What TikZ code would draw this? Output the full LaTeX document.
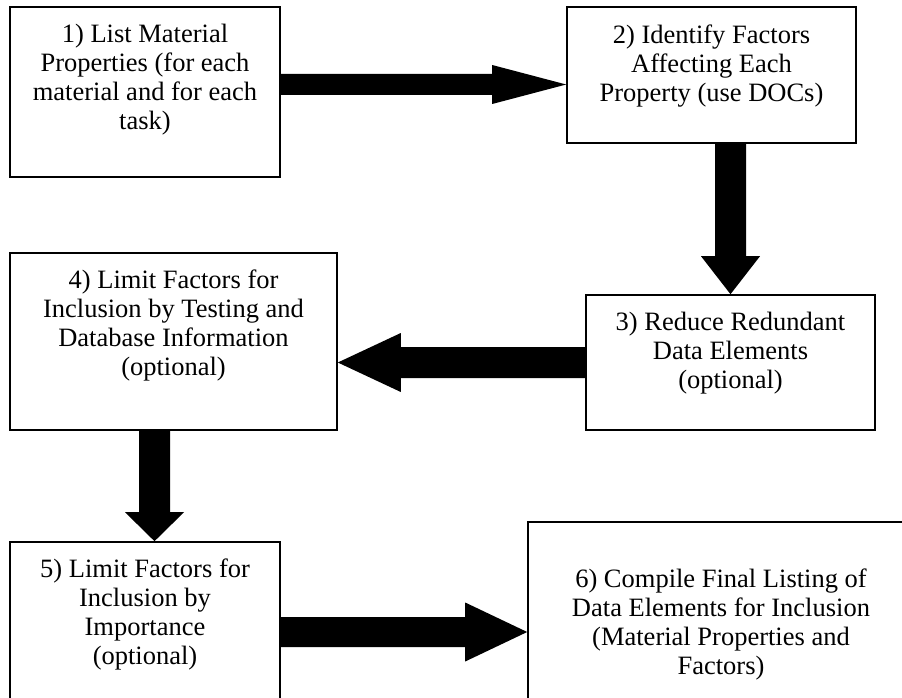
\documentclass[tikz,border=0pt]{standalone}
\usepackage{fontspec}
\setmainfont{Liberation Serif}
\usetikzlibrary{calc}

\tikzset{
  stepbox/.style={draw=black, line width=1.6pt, fill=white, inner sep=0pt},
  steptext/.style={anchor=north, align=center, inner sep=0pt,
                   font=\fontsize{26.5}{29}\selectfont},
}

% Block arrow from #1 to #2 (tip at #2):
% #3 shaft half width, #4 head half width, #5 head length
\newcommand\blockarrow[5]{%
  \coordinate (hb) at ($(#2)!#5!(#1)$);
  \fill[black] ($(#1)!#3!90:(#2)$) -- ($(hb)!#3!90:(#2)$) -- ($(hb)!#4!90:(#2)$)
     -- (#2) -- ($(hb)!#4!-90:(#2)$) -- ($(hb)!#3!-90:(#2)$)
     -- ($(#1)!#3!-90:(#2)$) -- cycle;
}

\begin{document}
\begin{tikzpicture}[x=1pt, y=-1pt]
  \useasboundingbox (0,0) rectangle (902,698);
  \fill[white] (0,0) rectangle (902,698);
  \clip (0,0) rectangle (902,698);

  % process boxes
  \node[stepbox, minimum width=270pt, minimum height=170pt] (b1) at (145,92) {};
  \node[stepbox, minimum width=289pt, minimum height=136pt] (b2) at (711.5,75) {};
  \node[stepbox, minimum width=289pt, minimum height=135pt] (b3) at (730.5,362.5) {};
  \node[stepbox, minimum width=327pt, minimum height=177pt] (b4) at (173.5,341.5) {};
  \node[stepbox, minimum width=270pt, minimum height=180pt] (b5) at (145,632) {};
  \node[stepbox, minimum width=386pt, minimum height=220pt] (b6) at (721,632) {};

  % box texts
  \node[steptext] (t1) at ([yshift=-18pt]b1.north)
    {1) List Material\\Properties (for each\\material and for each\\task)};
  \node[steptext] (t2) at ([yshift=-18pt]b2.north)
    {2) Identify Factors\\Affecting Each\\Property (use DOCs)};
  \node[steptext] (t3) at ([yshift=-18pt]b3.north)
    {3) Reduce Redundant\\Data Elements\\(optional)};
  \node[steptext] (t4) at ([yshift=-17pt]b4.north)
    {4) Limit Factors for\\Inclusion by Testing and\\Database Information\\(optional)};
  \node[steptext] (t5) at ([yshift=-17pt]b5.north)
    {5) Limit Factors for\\Inclusion by\\Importance\\(optional)};
  \node[steptext] (t6) at ([yshift=-47pt]b6.north)
    {6) Compile Final Listing of\\Data Elements for Inclusion\\(Material Properties and\\Factors)};

  % arrow end points
  \coordinate (a1s) at (b1.east |- 0,84.5);
  \coordinate (a1e) at (b2.west |- 0,84.5);
  \coordinate (a2s) at (730.5,0 |- b2.south);
  \coordinate (a3e) at (b4.east |- b3.west);
  \coordinate (a4s) at (154.5,0 |- b4.south);
  \coordinate (a4e) at (154.5,0 |- b5.north);

  % connectors
  \blockarrow{a1s}{a1e}{10.5pt}{19.5pt}{74pt}
  \blockarrow{a2s}{b3.north}{15.5pt}{29.5pt}{38pt}
  \blockarrow{b3.west}{a3e}{15.5pt}{29.5pt}{63pt}
  \blockarrow{a4s}{a4e}{15.5pt}{29.5pt}{29pt}
  \blockarrow{b5.east}{b6.west}{15pt}{29.5pt}{62pt}
\end{tikzpicture}
\end{document}
